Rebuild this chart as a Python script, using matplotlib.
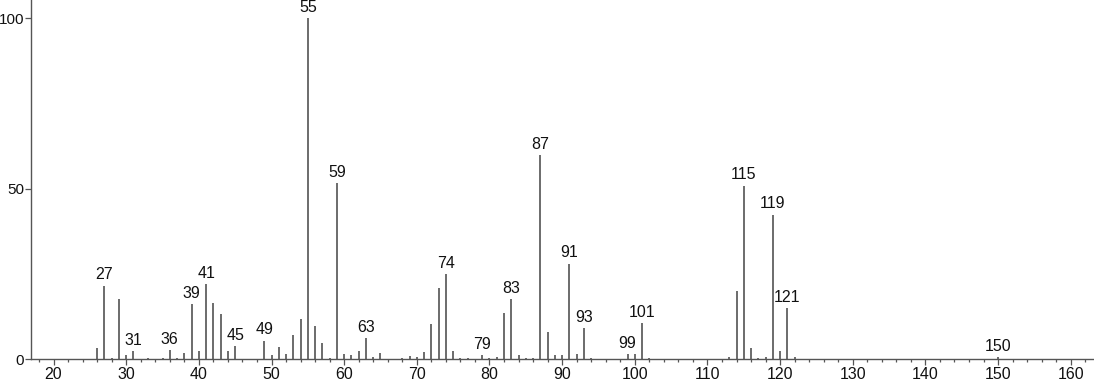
import matplotlib
matplotlib.use("Agg")
import matplotlib.pyplot as plt
from matplotlib.ticker import MultipleLocator

mz = [26, 27, 28, 29, 30, 31, 33, 35, 36, 37, 38, 39, 40, 41, 42, 43, 44, 45,
      49, 50, 51, 52, 53, 54, 55, 56, 57, 58, 59, 60, 61, 62, 63, 64, 65, 66,
      68, 69, 70, 71, 72, 73, 74, 75, 76, 77, 78, 79, 80, 81, 82, 83, 84, 85,
      86, 87, 88, 89, 90, 91, 92, 93, 94, 95, 99, 100, 101, 102, 113, 114, 115,
      116, 117, 118, 119, 120, 121, 122, 150]
intensity = [3.2, 21.5, 0.5, 17.7, 1.3, 2.4, 0.3, 0.3, 2.7, 0.4, 1.7, 16.2, 2.5,
             22.0, 16.4, 13.3, 2.5, 3.9, 5.4, 1.4, 3.5, 1.5, 7.1, 11.8, 100.0,
             9.7, 4.8, 0.5, 51.6, 1.6, 1.2, 2.5, 6.2, 0.7, 1.8, 0.2, 0.3, 1.1,
             0.8, 2.1, 10.4, 21.0, 25.0, 2.4, 0.5, 0.3, 0.2, 1.2, 0.3, 0.6, 13.6,
             17.6, 1.2, 0.5, 0.5, 59.8, 8.1, 1.2, 1.2, 28.0, 1.6, 9.1, 0.5, 0.2,
             1.5, 1.5, 10.6, 0.5, 0.7, 19.9, 50.8, 3.2, 0.5, 0.7, 42.3, 2.5, 15.0,
             0.7, 0.6]
labeled = [27, 31, 36, 39, 41, 45, 49, 55, 59, 63, 74, 79, 83, 87, 91, 93, 99,
           101, 115, 119, 121, 150]
x_ticks = [20, 30, 40, 50, 60, 70, 80, 90, 100, 110, 120, 130, 140, 150, 160]
y_ticks = [0, 50, 100]

plt.rcParams['font.family'] = ['Liberation Sans', 'DejaVu Sans']

W, H = 1094, 384
fig = plt.figure(figsize=(W / 100, H / 100), dpi=100)
ax = fig.add_axes([31 / W, 24.7 / H, (W - 31) / W, 359.3 / H])

ax.vlines(mz, 0, intensity, colors='#444444', linewidth=1.1)

lookup = dict(zip(mz, intensity))
for m in labeled:
    ax.annotate(str(m), (m, lookup[m]), xytext=(0, 2.5), textcoords='offset points',
                ha='center', va='bottom', fontsize=11.5, color='#111111')

ax.set_xlim(16.9, 163.2)
ax.set_ylim(0, 105.3)
ax.set_xticks(x_ticks)
ax.set_yticks(y_ticks)
ax.xaxis.set_minor_locator(MultipleLocator(2))

for s in ['top', 'right']:
    ax.spines[s].set_visible(False)
for s in ['left', 'bottom']:
    ax.spines[s].set_color('#555555')
    ax.spines[s].set_linewidth(1.0)

ax.tick_params(axis='x', which='major', length=4.2, width=0.9, color='#555555',
               labelsize=11.5, pad=1.5, labelcolor='#111111')
ax.tick_params(axis='x', which='minor', length=2.4, width=0.9, color='#555555')
ax.tick_params(axis='y', which='major', length=4.5, width=0.9, color='#555555',
               labelsize=11, pad=0.5, labelcolor='#111111')

fig.savefig('out.png', dpi=100)
